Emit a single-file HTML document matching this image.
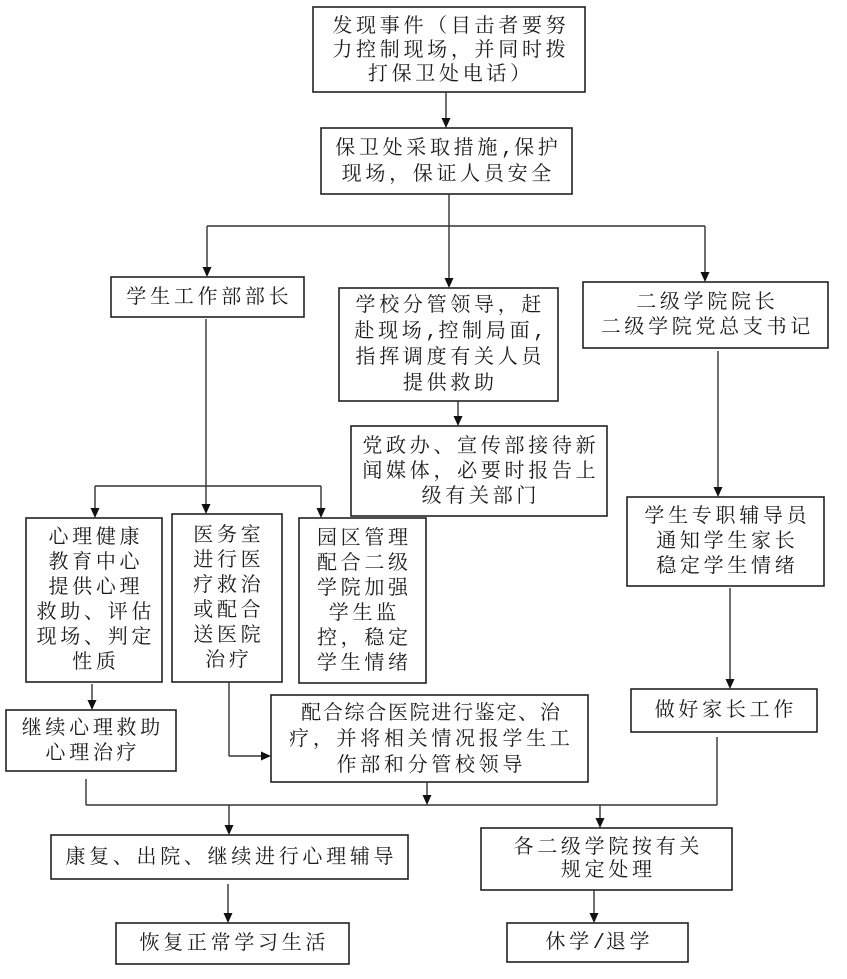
<!DOCTYPE html>
<html>
<head>
<meta charset="utf-8">
<style>
  html, body { margin:0; padding:0; background:#fff; }
  #c { position:relative; width:847px; height:979px; overflow:hidden; background:#fff; }
  svg { position:absolute; left:0; top:0; }
  .t {
    position:absolute; display:flex; align-items:center; justify-content:center;
    text-align:center; white-space:nowrap;
    font-family:"Liberation Serif","Noto Serif CJK SC",serif;
    font-size:20px; letter-spacing:3.7px; line-height:25px; color:#1c1c1c;
    padding-left:3.7px; box-sizing:border-box;
  }
  .t > div { display:block; }
  .h { font-family:"Liberation Mono",monospace; letter-spacing:1px; }
</style>
</head>
<body>
<div id="c">
<svg width="847" height="979" viewBox="0 0 847 979" xmlns="http://www.w3.org/2000/svg">
  <g fill="none" stroke="#222" stroke-width="1.6">
    <rect x="313" y="7" width="272" height="85"/>
    <rect x="321" y="128" width="251" height="66"/>
    <rect x="111" y="277" width="193" height="40"/>
    <rect x="339" y="288" width="219" height="113"/>
    <rect x="583" y="282" width="245" height="66"/>
    <rect x="351" y="426" width="256" height="90"/>
    <rect x="26" y="518" width="136" height="164"/>
    <rect x="172" y="514" width="110" height="168"/>
    <rect x="299" y="518" width="127" height="165"/>
    <rect x="627" y="497" width="197" height="89"/>
    <rect x="6" y="710" width="170" height="61"/>
    <rect x="271" y="695" width="317" height="87"/>
    <rect x="631" y="689" width="186" height="43"/>
    <rect x="51" y="835" width="357" height="44"/>
    <rect x="481" y="828" width="251" height="62"/>
    <rect x="116" y="923" width="233" height="41"/>
    <rect x="507" y="923" width="181" height="39"/>
  </g>
  <g fill="none" stroke="#333" stroke-width="1.4">
    <line x1="446" y1="92" x2="446" y2="120"/>
    <line x1="449" y1="194" x2="449" y2="280"/>
    <line x1="207" y1="226" x2="705" y2="226"/>
    <line x1="207" y1="226" x2="207" y2="269"/>
    <line x1="705" y1="226" x2="705" y2="274"/>
    <line x1="206" y1="319" x2="206" y2="506"/>
    <line x1="95" y1="486" x2="321" y2="486"/>
    <line x1="95" y1="486" x2="95" y2="510"/>
    <line x1="321" y1="486" x2="321" y2="510"/>
    <line x1="458" y1="401" x2="458" y2="418"/>
    <line x1="718" y1="351" x2="718" y2="489"/>
    <line x1="730" y1="588" x2="730" y2="681"/>
    <line x1="92" y1="684" x2="92" y2="702"/>
    <line x1="229" y1="682" x2="229" y2="756"/>
    <line x1="229" y1="756" x2="263" y2="756"/>
    <line x1="86" y1="779" x2="86" y2="805"/>
    <line x1="427" y1="782" x2="427" y2="797"/>
    <line x1="717" y1="737" x2="717" y2="805"/>
    <line x1="86" y1="805" x2="717" y2="805"/>
    <line x1="229" y1="805" x2="229" y2="827"/>
    <line x1="600" y1="805" x2="600" y2="820"/>
    <line x1="228" y1="884" x2="228" y2="915"/>
    <line x1="594" y1="890" x2="594" y2="915"/>
  </g>
  <g fill="#111" stroke="none">
    <polygon points="441.5,118 450.5,118 446,128"/>
    <polygon points="444.5,278 453.5,278 449,288"/>
    <polygon points="202.5,267 211.5,267 207,277"/>
    <polygon points="700.5,272 709.5,272 705,282"/>
    <polygon points="201.5,504 210.5,504 206,514"/>
    <polygon points="90.5,508 99.5,508 95,518"/>
    <polygon points="316.5,508 325.5,508 321,518"/>
    <polygon points="453.5,416 462.5,416 458,426"/>
    <polygon points="713.5,487 722.5,487 718,497"/>
    <polygon points="725.5,679 734.5,679 730,689"/>
    <polygon points="87.5,700 96.5,700 92,710"/>
    <polygon points="261,751.5 261,760.5 271,756"/>
    <polygon points="422.5,795 431.5,795 427,805"/>
    <polygon points="224.5,825 233.5,825 229,835"/>
    <polygon points="595.5,818 604.5,818 600,828"/>
    <polygon points="223.5,913 232.5,913 228,923"/>
    <polygon points="589.5,913 598.5,913 594,923"/>
  </g>
</svg>

<div class="t" style="left:313px;top:7px;width:272px;height:85px;line-height:24px;"><div>发现事件（目击者要努<br>力控制现场，并同时拨<br>打保卫处电话）</div></div>
<div class="t" style="left:321px;top:128px;width:251px;height:66px;"><div>保卫处采取措施<span class="h">,</span>保护<br>现场，保证人员安全</div></div>
<div class="t" style="left:111px;top:277px;width:193px;height:40px;"><div>学生工作部部长</div></div>
<div class="t" style="left:339px;top:288px;width:219px;height:113px;line-height:25.5px;"><div>学校分管领导，赶<br>赴现场<span class="h">,</span>控制局面<span class="h">,</span><br>指挥调度有关人员<br>提供救助</div></div>
<div class="t" style="left:583px;top:282px;width:245px;height:66px;"><div>二级学院院长<br>二级学院党总支书记</div></div>
<div class="t" style="left:351px;top:426px;width:256px;height:90px;"><div>党政办、宣传部接待新<br>闻媒体，必要时报告上<br>级有关部门</div></div>
<div class="t" style="left:26px;top:518px;width:136px;height:164px;"><div>心理健康<br>教育中心<br>提供心理<br>救助、评估<br>现场、判定<br>性质</div></div>
<div class="t" style="left:172px;top:514px;width:110px;height:168px;"><div>医务室<br>进行医<br>疗救治<br>或配合<br>送医院<br>治疗</div></div>
<div class="t" style="left:299px;top:518px;width:127px;height:165px;"><div>园区管理<br>配合二级<br>学院加强<br>学生监<br>控，稳定<br>学生情绪</div></div>
<div class="t" style="left:627px;top:497px;width:197px;height:89px;"><div>学生专职辅导员<br>通知学生家长<br>稳定学生情绪</div></div>
<div class="t" style="left:6px;top:710px;width:170px;height:61px;"><div>继续心理救助<br>心理治疗</div></div>
<div class="t" style="left:271px;top:695px;width:317px;height:87px;line-height:26px;"><div><span style="letter-spacing:1.7px;">配合综合医院进行鉴定、治</span><br>疗，并将相关情况报学生工<br>作部和分管校领导</div></div>
<div class="t" style="left:631px;top:689px;width:186px;height:43px;"><div>做好家长工作</div></div>
<div class="t" style="left:51px;top:835px;width:357px;height:44px;"><div>康复、出院、继续进行心理辅导</div></div>
<div class="t" style="left:481px;top:828px;width:251px;height:62px;line-height:23.5px;"><div>各二级学院按有关<br>规定处理</div></div>
<div class="t" style="left:116px;top:923px;width:233px;height:41px;"><div>恢复正常学习生活</div></div>
<div class="t" style="left:507px;top:923px;width:181px;height:39px;"><div>休学<span class="h">/</span>退学</div></div>
</div>
</body>
</html>
